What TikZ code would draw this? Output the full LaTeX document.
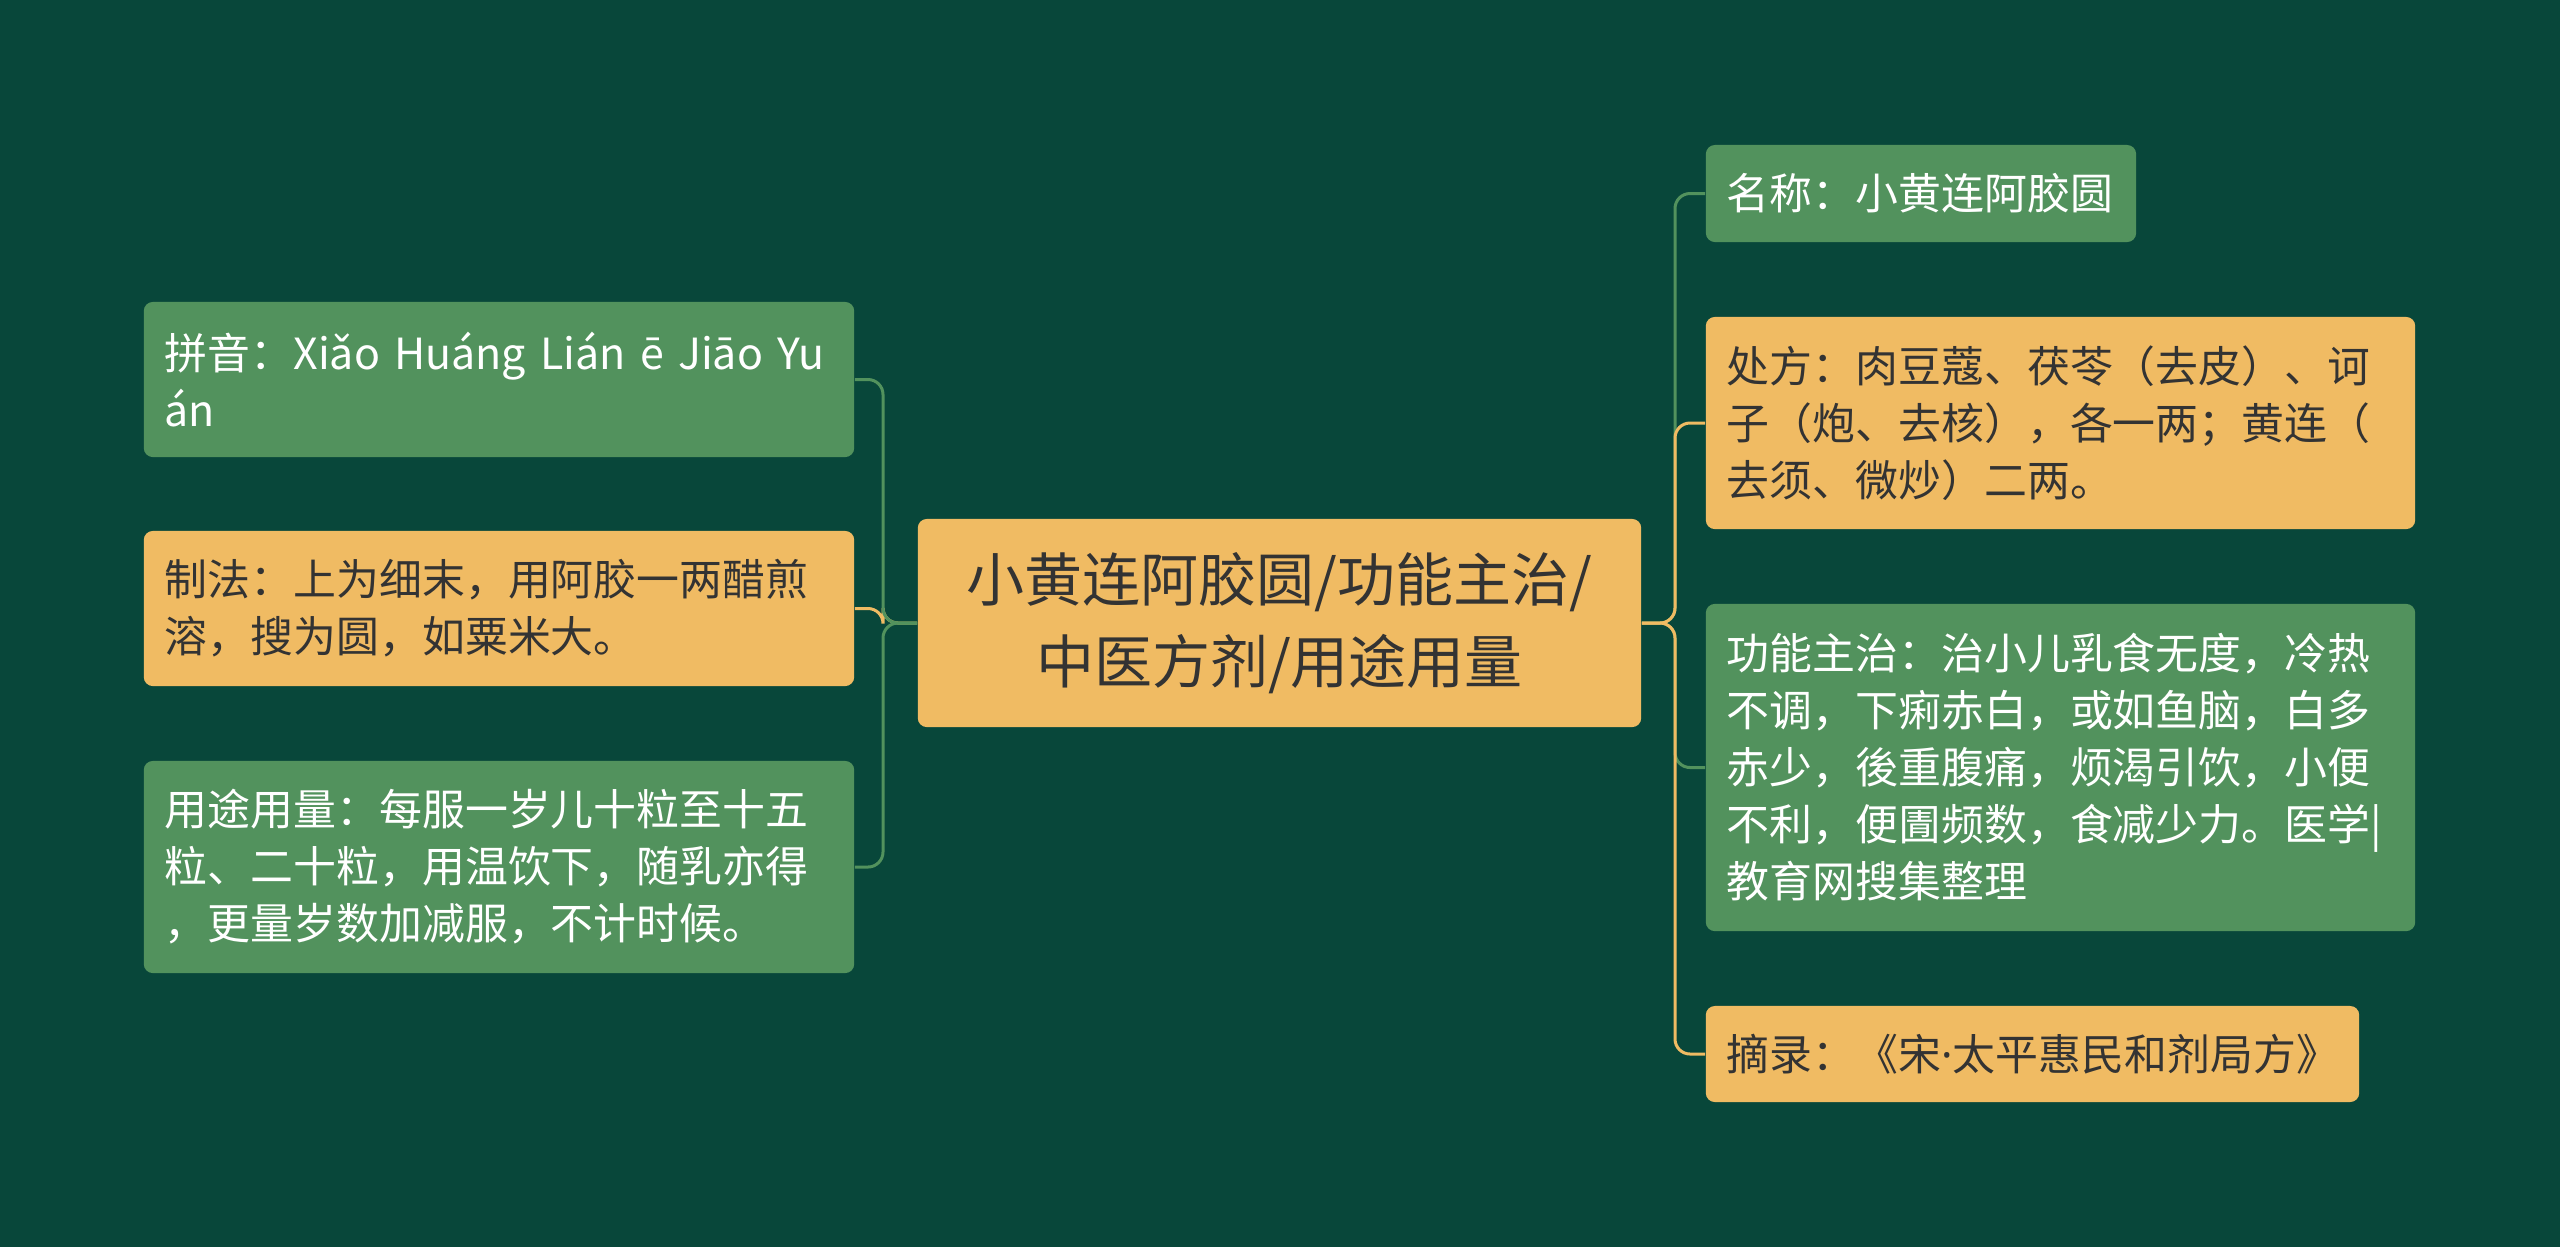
\documentclass[tikz,border=0pt]{standalone}
\usepackage{fontspec}
\newfontfamily\cjk{Noto Sans CJK SC}
\newfontfamily\latinfont{Noto Sans}
\usetikzlibrary{positioning}
\definecolor{bgGreen}{HTML}{08473A}
\definecolor{leafGreen}{HTML}{52925D}
\definecolor{leafGold}{HTML}{F0BB63}
\definecolor{textDark}{HTML}{333333}

\begin{document}
\begin{tikzpicture}[x=0.01cm, y=-0.01cm,
    box/.style={rectangle, rounded corners=0.09cm, fill=#1,
                inner xsep=0.21cm, inner ysep=0pt, align=left,
                font=\cjk\fontsize{12.2pt}{16.2pt}\selectfont},
    green box/.style={box=leafGreen, text=white},
    gold box/.style={box=leafGold, text=textDark},
    link/.style={draw=#1, line width=0.03cm, rounded corners=0.15cm},
  ]
    \fill[bgGreen] (0,0) rectangle (2560,1247);
    \useasboundingbox (0,0) rectangle (2560,1247);

    % centre
    \node[gold box, align=center, text width=6.81cm, minimum height=2.08cm,
          font=\cjk\fontsize{16.5pt}{23.3pt}\selectfont] (root) at (1279.5,623)
      {小黄连阿胶圆/功能主治/\\中医方剂/用途用量};

    % left side
    \node[green box, text width=6.68cm, minimum height=1.55cm] (pinyin) at (499,379.5)
      {拼音：Xiǎo Huáng Lián ē Jiāo Yu\\án};
    \node[gold box, text width=6.68cm, minimum height=1.55cm] (zhifa) at (499,608.5)
      {制法：上为细末，用阿胶一两醋煎\\溶，搜为圆，如粟米大。};
    \node[green box, text width=6.68cm, minimum height=2.12cm] (yongtu) at (499,867)
      {用途用量：每服一岁儿十粒至十五\\粒、二十粒，用温饮下，随乳亦得\\，更量岁数加减服，不计时候。};

    % right side
    \node[green box, text width=3.88cm, minimum height=0.97cm] (mingcheng) at (1921,193.5)
      {名称：小黄连阿胶圆};
    \node[gold box, text width=6.67cm, minimum height=2.12cm] (chufang) at (2060.5,423)
      {处方：肉豆蔻、茯苓（去皮）、诃\\子（炮、去核），各一两；黄连（\\去须、微炒）二两。};
    \node[green box, text width=6.67cm, minimum height=3.27cm] (gongneng) at (2060.5,767.5)
      {功能主治：治小儿乳食无度，冷热\\不调，下痢赤白，或如鱼脑，白多\\赤少，後重腹痛，烦渴引饮，小便\\不利，便圊频数，食减少力。医学|\\教育网搜集整理};
    \node[gold box, text width=6.11cm, minimum height=0.96cm] (zhailu) at (2032.5,1054)
      {摘录：《宋{\latinfont ·}太平惠民和剂局方》};

    \coordinate (busL) at (883,0);
    \coordinate (busR) at (1675,0);

    \draw[link=leafGold] (root.west) -- (root.west -| busL) |- (zhifa.east);
    \draw[link=leafGreen] (root.west) -- (root.west -| busL) |- (pinyin.east);
    \draw[link=leafGreen] (root.west) -- (root.west -| busL) |- (yongtu.east);

    \draw[link=leafGreen] (root.east) -- (root.east -| busR) |- (mingcheng.west);
    \draw[link=leafGreen] (root.east) -- (root.east -| busR) |- (gongneng.west);
    \draw[link=leafGold] (root.east) -- (root.east -| busR) |- (chufang.west);
    \draw[link=leafGold] (root.east) -- (root.east -| busR) |- (zhailu.west);
  \end{tikzpicture}
\end{document}
